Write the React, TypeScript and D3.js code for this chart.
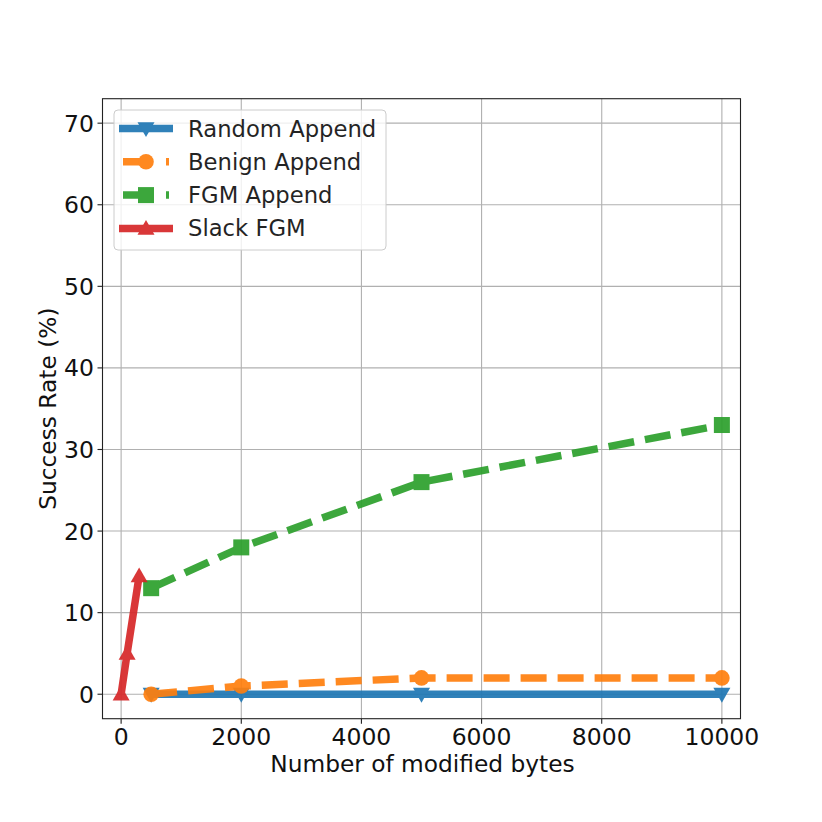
import React from 'react';
import * as d3 from 'd3';

const randomX = [500, 2000, 5000, 10000];
const randomY = [0, 0, 0, 0];
const benignX = [500, 2000, 5000, 10000];
const benignY = [0, 1, 2, 2];
const fgmX = [500, 2000, 5000, 10000];
const fgmY = [13, 18, 26, 33];
const slackX = [0, 100, 300];
const slackY = [0, 5, 14.5];

const xTicks = [0, 2000, 4000, 6000, 8000, 10000];
const yTicks = [0, 10, 20, 30, 40, 50, 60, 70];

const series = [
  { name: 'Random Append', xs: randomX, ys: randomY, color: '#1f77b4', dash: null, marker: 'down' },
  { name: 'Benign Append', xs: benignX, ys: benignY, color: '#ff7f0e', dash: '26,11', marker: 'circle' },
  { name: 'FGM Append', xs: fgmX, ys: fgmY, color: '#2ca02c', dash: '26,11', marker: 'square' },
  { name: 'Slack FGM', xs: slackX, ys: slackY, color: '#d62728', dash: null, marker: 'up' },
];

const W = 822, H = 822;
const left = 102.5, right = 740.5, top = 98.7, bottom = 718.7;
const font = 'DejaVu Sans, sans-serif';

const Marker = ({ type, x, y, color }: any) => {
  const s = 8.5;
  if (type === 'circle') return <circle cx={x} cy={y} r={7.8} fill={color} />;
  if (type === 'square') return <rect x={x - 8} y={y - 8} width={16} height={16} fill={color} />;
  if (type === 'down')
    return <path d={`M${x - s},${y - s * 0.75}L${x + s},${y - s * 0.75}L${x},${y + s}Z`} fill={color} />;
  return <path d={`M${x - s},${y + s * 0.75}L${x + s},${y + s * 0.75}L${x},${y - s}Z`} fill={color} />;
};

const App = () => {
  const x = d3.scaleLinear().domain([-310, 10310]).range([left, right]);
  const y = d3.scaleLinear().domain([-3, 73]).range([bottom, top]);
  const line = d3.line<[number, number]>().x(d => x(d[0])).y(d => y(d[1]));

  return (
    <svg width={W} height={H} style={{ display: 'block', margin: '-8px' }}>
      <rect width={W} height={H} fill="white" />
      {/* grid */}
      {xTicks.map(t => (
        <line key={'gx' + t} x1={x(t)} x2={x(t)} y1={top} y2={bottom} stroke="#b0b0b0" strokeWidth={1.1} />
      ))}
      {yTicks.map(t => (
        <line key={'gy' + t} x1={left} x2={right} y1={y(t)} y2={y(t)} stroke="#b0b0b0" strokeWidth={1.1} />
      ))}
      {/* series */}
      {series.map(s => {
        const pts = s.xs.map((v, i) => [v, s.ys[i]] as [number, number]);
        return (
          <g key={s.name} opacity={0.92}>
            <path d={line(pts) || ''} fill="none" stroke={s.color} strokeWidth={7.5}
              strokeDasharray={s.dash || undefined} />
            {pts.map((p, i) => (
              <Marker key={i} type={s.marker} x={x(p[0])} y={y(p[1])} color={s.color} />
            ))}
          </g>
        );
      })}
      {/* frame */}
      <rect x={left} y={top} width={right - left} height={bottom - top} fill="none" stroke="#222" strokeWidth={1.1} />
      {/* ticks */}
      {xTicks.map(t => (
        <g key={'tx' + t}>
          <line x1={x(t)} x2={x(t)} y1={bottom} y2={bottom + 5} stroke="#222" strokeWidth={1.1} />
          <text x={x(t)} y={745} textAnchor="middle" fontSize={23.5} fontFamily={font} fill="#111">{t}</text>
        </g>
      ))}
      {yTicks.map(t => (
        <g key={'ty' + t}>
          <line x1={left - 5} x2={left} y1={y(t)} y2={y(t)} stroke="#222" strokeWidth={1.1} />
          <text x={94} y={y(t) + 8.5} textAnchor="end" fontSize={23.5} fontFamily={font} fill="#111">{t}</text>
        </g>
      ))}
      <text x={(left + right) / 2 + 1} y={772} textAnchor="middle" fontSize={23.3} fontFamily={font} fill="#111">
        Number of modified bytes
      </text>
      <text transform={`translate(56,${(top + bottom) / 2}) rotate(-90)`} textAnchor="middle" fontSize={23.3}
        fontFamily={font} fill="#111">
        Success Rate (%)
      </text>
      {/* legend */}
      <g>
        <rect x={114} y={110} width={272} height={140} rx={4} fill="white" fillOpacity={0.8} stroke="#cccccc" />
        {series.map((s, i) => {
          const ly = 128.5 + i * 33.3;
          const dashed = !!s.dash;
          return (
            <g key={'lg' + s.name} opacity={0.92}>
              <line x1={dashed ? 123 : 119} x2={173} y1={ly} y2={ly} stroke={s.color} strokeWidth={7.5}
                strokeDasharray={dashed ? '27,16,3,60' : undefined} />
              <Marker type={s.marker} x={146} y={ly} color={s.color} />
              <text x={188} y={ly + 8} fontSize={22.7} fontFamily={font} fill="#111" opacity={1 / 0.92}>{s.name}</text>
            </g>
          );
        })}
      </g>
    </svg>
  );
};

export default App;
